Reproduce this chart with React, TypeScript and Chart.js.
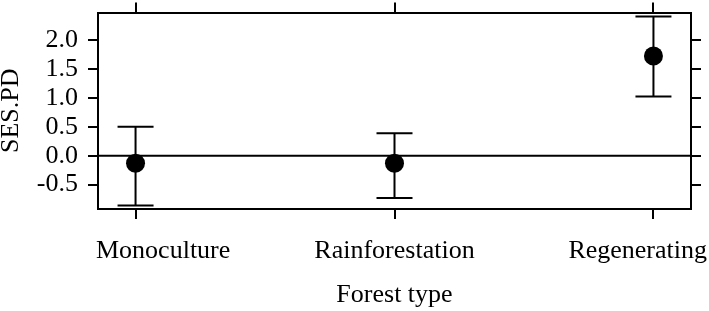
import React, { useEffect, useRef } from "react";
import { Chart, registerables } from "chart.js";

Chart.register(...registerables);

const categories = ["Monoculture", "Rainforestation", "Regenerating"];
const means = [-0.13, -0.13, 1.72];
const lowers = [-0.86, -0.73, 1.02];
const uppers = [0.5, 0.386, 2.4];
const yTicks = [-0.5, 0.0, 0.5, 1.0, 1.5, 2.0];
const yMin = -0.92;
const yMax = 2.47;
const xPad = 0.145;

const FONT = "'Liberation Serif', 'Times New Roman', serif";

const errorBarPlugin = {
  id: "errorBars",
  beforeDatasetsDraw(chart: any) {
    const { ctx, chartArea, scales } = chart;
    const y0 = scales.y.getPixelForValue(0);
    ctx.save();
    ctx.strokeStyle = "#000";
    ctx.lineWidth = 2;
    ctx.beginPath();
    ctx.moveTo(chartArea.left, y0);
    ctx.lineTo(chartArea.right, y0);
    ctx.stroke();
    const cap = 18;
    categories.forEach((_, i) => {
      const x = scales.x.getPixelForValue(i + 1);
      const yl = scales.y.getPixelForValue(lowers[i]);
      const yu = scales.y.getPixelForValue(uppers[i]);
      ctx.beginPath();
      ctx.moveTo(x, yl);
      ctx.lineTo(x, yu);
      ctx.moveTo(x - cap, yl);
      ctx.lineTo(x + cap, yl);
      ctx.moveTo(x - cap, yu);
      ctx.lineTo(x + cap, yu);
      ctx.stroke();
    });
    ctx.restore();
  },
  afterDraw(chart: any) {
    // category tick labels, kept inside the figure like the original
    const { ctx, chartArea, scales } = chart;
    const xs = scales.x;
    ctx.save();
    ctx.font = `26px ${FONT}`;
    ctx.fillStyle = "#000";
    ctx.textAlign = "left";
    ctx.textBaseline = "alphabetic";
    categories.forEach((c, i) => {
      const w = ctx.measureText(c).width;
      const x = xs.getPixelForValue(i + 1);
      let left = x - w / 2;
      left = Math.max(left, chartArea.left - 2);
      left = Math.min(left, chart.width - 2 - w);
      ctx.fillText(c, left, xs.bottom - 53);
    });
    ctx.restore();
  },
};

const catTicks = (scale: any) => {
  scale.ticks = categories.map((_, i) => ({ value: i + 1 }));
};
const valTicks = (scale: any) => {
  scale.ticks = yTicks.map((v) => ({ value: v }));
};
const noPad = (s: any) => {
  s.paddingLeft = 0;
  s.paddingRight = 0;
  s.paddingTop = 0;
  s.paddingBottom = 0;
};

const gridOpts = {
  drawOnChartArea: false,
  drawTicks: true,
  tickLength: 10,
  color: "#000",
  lineWidth: 2,
};
const borderOpts = { display: true, color: "#000", width: 2 };

export default function App() {
  const ref = useRef<HTMLCanvasElement>(null);
  useEffect(() => {
    if (!ref.current) return;
    Chart.defaults.font.family = FONT;
    Chart.defaults.color = "#000";
    const chart = new Chart(ref.current, {
      type: "scatter",
      data: {
        datasets: [
          {
            data: means.map((m, i) => ({ x: i + 1, y: m })),
            pointRadius: 9.5,
            pointHoverRadius: 9.5,
            backgroundColor: "#000",
            borderColor: "#000",
            borderWidth: 0,
          },
        ],
      },
      options: {
        animation: false,
        responsive: true,
        maintainAspectRatio: false,
        layout: { padding: 0 },
        plugins: { legend: { display: false }, tooltip: { enabled: false } },
        scales: {
          x: {
            type: "linear",
            position: "bottom",
            min: 1 - xPad,
            max: 3 + xPad,
            afterBuildTicks: catTicks,
            afterFit: (s: any) => {
              s.height = 102;
              noPad(s);
            },
            grid: gridOpts,
            border: borderOpts,
            ticks: { display: false },
            title: {
              display: true,
              text: "Forest type",
              font: { size: 26, family: FONT },
              padding: { top: 0, bottom: 0 },
            },
          },
          x2: {
            type: "linear",
            position: "top",
            min: 1 - xPad,
            max: 3 + xPad,
            afterBuildTicks: catTicks,
            afterFit: (s: any) => {
              s.height = 12.5;
              noPad(s);
            },
            grid: gridOpts,
            border: borderOpts,
            ticks: { display: false },
          },
          y: {
            type: "linear",
            position: "left",
            min: yMin,
            max: yMax,
            afterBuildTicks: valTicks,
            afterFit: (s: any) => {
              s.width = 98;
              noPad(s);
            },
            grid: gridOpts,
            border: borderOpts,
            ticks: {
              font: { size: 26, family: FONT },
              padding: 10,
              autoSkip: false,
              callback: (v: any) => Number(v).toFixed(1),
            },
            title: {
              display: true,
              text: "SES.PD",
              font: { size: 26, family: FONT, lineHeight: 0.85 },
              padding: 0,
            },
          },
          y2: {
            type: "linear",
            position: "right",
            min: yMin,
            max: yMax,
            afterBuildTicks: valTicks,
            afterFit: (s: any) => {
              s.width = 18;
              noPad(s);
            },
            grid: gridOpts,
            border: borderOpts,
            ticks: { display: false },
          },
        },
      },
      plugins: [errorBarPlugin],
    } as any);
    return () => chart.destroy();
  }, []);
  return (
    <div style={{ position: "absolute", left: 0, top: 0, width: 709, height: 311, background: "#fff" }}>
      <canvas ref={ref} />
    </div>
  );
}
